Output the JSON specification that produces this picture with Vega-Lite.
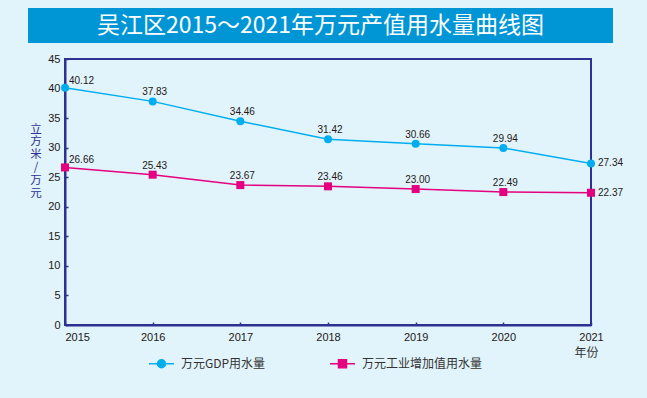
{
  "$schema": "https://vega.github.io/schema/vega-lite/v6.json",
  "background": "#e1f3fb",
  "padding": {"left": 28, "top": 8, "right": 30, "bottom": 40},
  "spacing": 9,
  "config": {"font": "Liberation Sans", "view": {"stroke": null}},
  "vconcat": [
    {
      "width": 585,
      "height": 35,
      "view": {"fill": "#0096d6", "stroke": null},
      "data": {"values": [{"title": "吴江区2015～2021年万元产值用水量曲线图"}]},
      "mark": {"type": "text", "font": "Noto Sans CJK SC", "fontSize": 23, "color": "#ffffff", "baseline": "middle", "align": "center"},
      "encoding": {"text": {"field": "title", "type": "nominal"}}
    },
    {
      "spacing": -1,
      "hconcat": [
        {
          "width": 1,
          "height": 1,
          "data": {"values": []},
          "mark": "point"
        },
        {
          "width": 526,
          "height": 266,
          "view": {"stroke": "#2e3192", "strokeWidth": 2},
          "data": {
            "values": [
              {"year": 2015, "series": "万元GDP用水量", "value": 40.12},
              {"year": 2016, "series": "万元GDP用水量", "value": 37.83},
              {"year": 2017, "series": "万元GDP用水量", "value": 34.46},
              {"year": 2018, "series": "万元GDP用水量", "value": 31.42},
              {"year": 2019, "series": "万元GDP用水量", "value": 30.66},
              {"year": 2020, "series": "万元GDP用水量", "value": 29.94},
              {"year": 2021, "series": "万元GDP用水量", "value": 27.34},
              {"year": 2015, "series": "万元工业增加值用水量", "value": 26.66},
              {"year": 2016, "series": "万元工业增加值用水量", "value": 25.43},
              {"year": 2017, "series": "万元工业增加值用水量", "value": 23.67},
              {"year": 2018, "series": "万元工业增加值用水量", "value": 23.46},
              {"year": 2019, "series": "万元工业增加值用水量", "value": 23.00},
              {"year": 2020, "series": "万元工业增加值用水量", "value": 22.49},
              {"year": 2021, "series": "万元工业增加值用水量", "value": 22.37}
            ]
          },
          "encoding": {
            "x": {
              "field": "year", "type": "quantitative",
              "scale": {"domain": [2015, 2021], "nice": false, "zero": false},
              "axis": {
                "values": [2015, 2016, 2017, 2018, 2019, 2020, 2021],
                "format": "d",
                "grid": false,
                "labelFlush": false,
                "labelAlign": {"condition": {"test": "datum.value == 2015", "value": "left"}, "value": "center"},
                "labelFontSize": 11,
                "labelColor": "#231815",
                "labelPadding": 9,
                "tickSize": -3,
                "tickColor": "#2e3192",
                "tickWidth": 1.5,
                "domainColor": "#2e3192",
                "domainWidth": 2,
                "title": "年份",
                "titleFont": "Noto Sans CJK SC",
                "titleFontSize": 12,
                "titleFontWeight": "normal",
                "titleColor": "#333333",
                "titleX": 521,
                "titleY": 27,
                "titleAlign": "center",
                "titleBaseline": "middle"
              }
            },
            "y": {
              "field": "value", "type": "quantitative",
              "scale": {"domain": [0, 45], "nice": false},
              "axis": {
                "values": [0, 5, 10, 15, 20, 25, 30, 35, 40, 45],
                "grid": false,
                "labelFlush": false,
                "labelFontSize": 11,
                "labelColor": "#231815",
                "labelPadding": 8,
                "tickSize": -3,
                "tickColor": "#2e3192",
                "tickWidth": 1.5,
                "domainColor": "#2e3192",
                "domainWidth": 2,
                "title": ["立", "方", "米", "/", "万", "元"],
                "titleAngle": 0,
                "titleX": -29.5,
                "titleY": 64,
                "titleAlign": "center",
                "titleBaseline": "top",
                "titleFont": "Noto Sans CJK SC",
                "titleFontSize": 11.5,
                "titleLineHeight": 12.8,
                "titleFontWeight": "normal",
                "titleColor": "#2e3192"
              }
            },
            "color": {
              "field": "series", "type": "nominal",
              "scale": {"domain": ["万元GDP用水量", "万元工业增加值用水量"], "range": ["#00aeef", "#e5007f"]},
              "legend": {
                "orient": "none",
                "legendX": 120,
                "legendY": 342,
                "direction": "horizontal",
                "title": null,
                "labelFont": "Noto Sans CJK SC",
                "labelFontSize": 12,
                "labelColor": "#333333",
                "columnPadding": 61,
                "labelOffset": 6,
                "symbolSize": 625,
                "symbolStrokeWidth": 1.5,
                "symbolOpacity": 1,
                "encode": {
                  "symbols": {
                    "update": {
                      "shape": {"signal": "datum.value === '万元GDP用水量' ? 'M-1,0H1M0.32,0A0.32,0.32,0,1,1,-0.32,0A0.32,0.32,0,1,1,0.32,0Z' : 'M-1,0H1M-0.32,-0.32H0.32V0.32H-0.32Z'"},
                      "fill": {"scale": "color", "field": "value"},
                      "stroke": {"scale": "color", "field": "value"},
                      "strokeWidth": {"value": 1.5},
                      "opacity": {"value": 1},
                      "size": {"value": 625}
                    }
                  }
                }
              }
            }
          },
          "layer": [
            {"mark": {"type": "line", "strokeWidth": 1.5}},
            {
              "transform": [{"filter": "datum.series == '万元GDP用水量'"}],
              "mark": {"type": "point", "shape": "circle", "filled": true, "size": 64, "opacity": 1}
            },
            {
              "transform": [{"filter": "datum.series == '万元工业增加值用水量'"}],
              "mark": {"type": "point", "shape": "square", "filled": true, "size": 64, "opacity": 1}
            },
            {
              "transform": [{"filter": "datum.year == 2015"}],
              "mark": {"type": "text", "align": "left", "baseline": "alphabetic", "dx": 4, "dy": -4, "fontSize": 10},
              "encoding": {"text": {"field": "value", "type": "quantitative", "format": ".2f"}, "color": {"value": "#231815"}}
            },
            {
              "transform": [{"filter": "datum.year > 2015 && datum.year < 2021"}],
              "mark": {"type": "text", "align": "center", "baseline": "alphabetic", "dx": 2, "dy": -6, "fontSize": 10},
              "encoding": {"text": {"field": "value", "type": "quantitative", "format": ".2f"}, "color": {"value": "#231815"}}
            },
            {
              "transform": [{"filter": "datum.year == 2021"}],
              "mark": {"type": "text", "align": "left", "baseline": "middle", "dx": 7, "dy": 0, "fontSize": 10},
              "encoding": {"text": {"field": "value", "type": "quantitative", "format": ".2f"}, "color": {"value": "#231815"}}
            }
          ]
        }
      ]
    }
  ]
}
